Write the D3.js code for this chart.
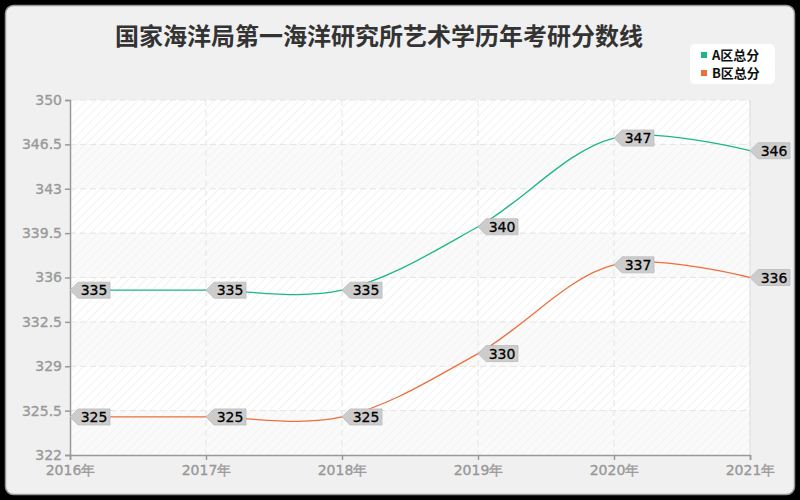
<!DOCTYPE html>
<html><head><meta charset="utf-8">
<script src="https://cdn.jsdelivr.net/npm/d3@7/dist/d3.min.js"></script>
<style>body{margin:0;background:#000;}svg{display:block;}</style>
</head><body>
<svg id="c" width="800" height="500"></svg>
<script>
const years = ["2016年","2017年","2018年","2019年","2020年","2021年"];
const seriesNames = ["A区总分","B区总分"];
const seriesA = [335,335,335,340,347,346];
const seriesB = [325,325,325,330,337,336];
const yTicks = [322,325.5,329,332.5,336,339.5,343,346.5,350];
const colors = ["#1db58a","#ec6f3c"];
const title = "国家海洋局第一海洋研究所艺术学历年考研分数线";

const svg = d3.select("#c");
const font = "'Noto Sans CJK SC','Noto Sans',sans-serif";
svg.append("rect").attr("x",0).attr("y",0).attr("width",800).attr("height",500).attr("fill","#000");
svg.append("rect").attr("x",5.5).attr("y",5.5).attr("width",789).attr("height",489).attr("rx",8)
  .attr("fill","#f0f0f0").attr("stroke","#999").attr("stroke-width",1.5);

const defs = svg.append("defs");
const pat = defs.append("pattern").attr("id","hatch").attr("patternUnits","userSpaceOnUse")
  .attr("width",6).attr("height",6).attr("patternTransform","rotate(45)");
pat.append("rect").attr("width",6).attr("height",6).attr("fill","#ffffff");
pat.append("line").attr("x1",0).attr("y1",0).attr("x2",0).attr("y2",6).attr("stroke","#eeeeee").attr("stroke-width",1.5);
const pat2 = defs.append("pattern").attr("id","hatch2").attr("patternUnits","userSpaceOnUse")
  .attr("width",6).attr("height",6).attr("patternTransform","rotate(45)");
pat2.append("rect").attr("width",6).attr("height",6).attr("fill","#fafafa");
pat2.append("line").attr("x1",0).attr("y1",0).attr("x2",0).attr("y2",6).attr("stroke","#f1f1f1").attr("stroke-width",1.5);

const L=70, R=750, T=100, B=455;
const x = d3.scalePoint().domain(years).range([L,R]);
const y = d3.scaleLinear().domain([322,350]).range([B,T]);

for(let i=0;i<yTicks.length-1;i++){
  const top = y(yTicks[yTicks.length-1-i]), bot = y(yTicks[yTicks.length-2-i]);
  svg.append("rect").attr("x",L).attr("y",top).attr("width",R-L).attr("height",bot-top)
    .attr("fill", i%2===0 ? "url(#hatch)" : "url(#hatch2)");
}
svg.append("g").selectAll("line").data(yTicks.slice(1)).join("line")
  .attr("x1",L).attr("x2",R).attr("y1",d=>y(d)).attr("y2",d=>y(d))
  .attr("stroke","#e4e4e4").attr("stroke-dasharray","6,4");
svg.append("g").selectAll("line").data(years.slice(1)).join("line")
  .attr("x1",d=>x(d)).attr("x2",d=>x(d)).attr("y1",T).attr("y2",B)
  .attr("stroke","#e4e4e4").attr("stroke-dasharray","6,4");
svg.append("line").attr("x1",R).attr("x2",R).attr("y1",T).attr("y2",B).attr("stroke","#e0e0e0");

const yAxis = svg.append("g").attr("transform",`translate(${L},0)`)
  .call(d3.axisLeft(y).tickValues(yTicks).tickSize(5).tickPadding(3).tickFormat(d=>d));
const xAxis = svg.append("g").attr("transform",`translate(0,${B})`)
  .call(d3.axisBottom(x).tickSize(5).tickPadding(3));
[yAxis,xAxis].forEach(g=>{
  g.select(".domain").attr("stroke","#999").attr("stroke-width",1.5);
  g.selectAll(".tick line").attr("stroke","#999").attr("stroke-width",1.5);
  g.selectAll("text").attr("fill","#999").attr("stroke","#999").attr("stroke-width",0.35)
    .style("font-family","'DejaVu Sans',sans-serif")
    .style("font-size","14px").style("font-weight","normal");
});
xAxis.selectAll("text").attr("dy","0.85em");

const line = d3.line().x((d,i)=>x(years[i])).y(d=>y(d)).curve(d3.curveCatmullRom.alpha(0.5));
[seriesA,seriesB].forEach((s,k)=>{
  svg.append("path").attr("d",line(s)).attr("fill","none").attr("stroke",colors[k]).attr("stroke-width",1.3);
});

[seriesA,seriesB].forEach((s,k)=>{
  s.forEach((v,i)=>{
    const px = x(years[i]), py = y(v);
    const g = svg.append("g").attr("transform",`translate(${px},${py})`);
    g.append("path").attr("d","M0,0 L8,-8 L40,-8 L40,8 L8,8 Z").attr("fill","#cccccc").attr("stroke","#bbb").attr("stroke-width",0.8);
    g.append("text").attr("x",24).attr("y",0).attr("dy","0.36em").attr("text-anchor","middle")
      .style("font-family","'DejaVu Sans',sans-serif").style("font-size","14px").style("font-weight","normal")
      .attr("fill","#000").attr("stroke","#000").attr("stroke-width",0.3).text(v);
  });
});

svg.append("text").attr("x",379).attr("y",45).attr("text-anchor","middle")
  .style("font-family",font).style("font-size","24px").style("font-weight","bold").attr("fill","#333").text(title);

svg.append("rect").attr("x",690).attr("y",44).attr("width",85).attr("height",40).attr("rx",5).attr("fill","#fff");
seriesNames.forEach((n,k)=>{
  svg.append("rect").attr("x",701).attr("y",52+k*18).attr("width",6).attr("height",6).attr("fill",colors[k]);
  svg.append("text").attr("x",712).attr("y",55+k*18).attr("dy","0.36em")
    .style("font-family",font).style("font-size","13px").style("font-weight","bold").attr("fill","#111").text(n);
});
</script>
</body></html>
